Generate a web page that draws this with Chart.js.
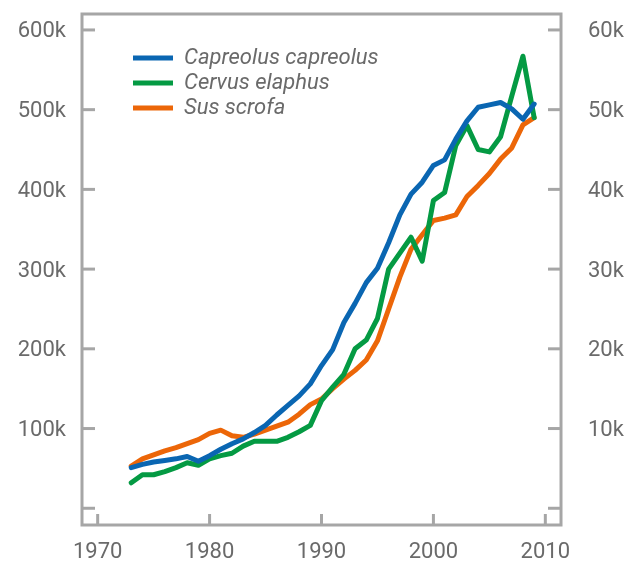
<!DOCTYPE html>
<html><head><meta charset="utf-8">
<script src="https://cdn.jsdelivr.net/npm/chart.js@4.4.1/dist/chart.umd.min.js"></script>
<style>html,body{margin:0;padding:0;background:#fff;overflow:hidden}canvas{display:block}</style>
</head><body>
<canvas id="c" width="628" height="561"></canvas>
<script>
const years = [1973,1974,1975,1976,1977,1978,1979,1980,1981,1982,1983,1984,1985,1986,1987,1988,1989,1990,1991,1992,1993,1994,1995,1996,1997,1998,1999,2000,2001,2002,2003,2004,2005,2006,2007,2008,2009];
const capreolusCapreolus = [51000,55000,58000,60000,62000,65000,59000,66000,74000,81000,87000,95000,104000,117000,129000,141000,156000,179000,199000,233000,257000,283000,301000,333000,368000,394000,409000,430000,437000,463000,486000,503000,506000,509000,501000,488000,507000];
const cervusElaphus = [3200,4200,4200,4600,5100,5700,5400,6200,6600,6900,7800,8400,8400,8400,8900,9600,10400,13500,15200,16800,20000,21100,23800,30000,32000,34000,31000,38600,39600,45500,48000,45000,44700,46600,51700,56700,49000];
const susScrofa = [53000,62000,67000,72000,76000,81000,86000,94000,98000,91000,89000,93000,98000,103000,108000,118000,130000,137000,150000,162000,173000,186000,210000,250000,290000,325000,343000,361000,364000,368000,391000,405000,420000,438000,452000,481000,490000];
const seriesNames = ['Capreolus capreolus','Cervus elaphus','Sus scrofa'];
const xTickYears = [1970,1980,1990,2000,2010];
const leftTicks = [0,100000,200000,300000,400000,500000,600000];
const rightTicks = [0,10000,20000,30000,40000,50000,60000];

const GRAY = '#a6a6a6';
const TEXT = '#6a6a6a';
const FONT = 'Roboto';

function pts(vals){ return years.map((y,i)=>({x:y, y:vals[i]})); }
function kLabel(v){ return v === 0 ? '' : (v/1000) + 'k'; }
function noPad(s){ s.paddingTop = 0; s.paddingBottom = 0; s.paddingLeft = 0; s.paddingRight = 0; }

const frameTicks = {
  id:'frameTicks',
  beforeDatasetsDraw(chart){
    const {ctx, chartArea:a, scales} = chart;
    ctx.save();
    ctx.strokeStyle = GRAY; ctx.lineWidth = 3; ctx.lineCap = 'butt';
    const seg = (x1,y1,x2,y2)=>{ctx.beginPath();ctx.moveTo(x1,y1);ctx.lineTo(x2,y2);ctx.stroke();};
    scales.y.ticks.forEach(t=>{const y = scales.y.getPixelForValue(t.value); seg(a.left, y, a.left+13, y);});
    scales.y1.ticks.forEach(t=>{const y = scales.y1.getPixelForValue(t.value); seg(a.right-13, y, a.right, y);});
    scales.x.ticks.forEach(t=>{const x = scales.x.getPixelForValue(t.value); seg(x, a.bottom-11, x, a.bottom);});
    ctx.strokeRect(a.left, a.top, a.right-a.left, a.bottom-a.top);
    ctx.restore();
  }
};
const legendShift = {
  id:'legendShift',
  afterLayout(chart){
    if (chart.legend){ chart.legend.left = chart.chartArea.left + 48; chart.legend.top = chart.chartArea.top + 30; }
  }
};

const colors = ['#0a66b2','#049a43','#ec6608'];
const common = {borderWidth:5, pointRadius:0, pointHoverRadius:0, tension:0, fill:false, borderCapStyle:'round', borderJoinStyle:'round'};

new Chart(document.getElementById('c'), {
  type:'line',
  data:{
    datasets:[
      Object.assign({label:seriesNames[0], data:pts(capreolusCapreolus), borderColor:colors[0], backgroundColor:colors[0], yAxisID:'y'}, common),
      Object.assign({label:seriesNames[1], data:pts(cervusElaphus), borderColor:colors[1], backgroundColor:colors[1], yAxisID:'y1'}, common),
      Object.assign({label:seriesNames[2], data:pts(susScrofa), borderColor:colors[2], backgroundColor:colors[2], yAxisID:'y'}, common)
    ]
  },
  options:{
    responsive:false, animation:false, devicePixelRatio:1,
    layout:{padding:{top:14,left:0,right:0,bottom:0}},
    plugins:{
      tooltip:{enabled:false},
      legend:{
        position:'chartArea', align:'start', fullSize:false,
        labels:{usePointStyle:true, pointStyle:'line', pointStyleWidth:40, padding:3, color:TEXT,
          font:{family:FONT, size:22, style:'italic'}}
      }
    },
    scales:{
      x:{type:'linear', min:1968.6, max:2011.4,
        grid:{display:false, drawTicks:false}, border:{display:false},
        afterBuildTicks(s){ s.ticks = xTickYears.map(v=>({value:v})); },
        afterFit(s){ s.height = 36; noPad(s); },
        ticks:{padding:14, color:TEXT, font:{family:FONT,size:22}, maxRotation:0, autoSkip:false, callback:v=>String(v)}
      },
      y:{type:'linear', position:'left', min:-21000, max:620000,
        grid:{display:false, drawTicks:false}, border:{display:false},
        afterBuildTicks(s){ s.ticks = leftTicks.map(v=>({value:v})); },
        afterFit(s){ s.width = 82; noPad(s); },
        ticks:{padding:16, labelOffset:2, color:TEXT, font:{family:FONT,size:22}, callback:kLabel}
      },
      y1:{type:'linear', position:'right', min:-2100, max:62000,
        grid:{display:false, drawTicks:false}, border:{display:false},
        afterBuildTicks(s){ s.ticks = rightTicks.map(v=>({value:v})); },
        afterFit(s){ s.width = 67; noPad(s); },
        ticks:{padding:27, labelOffset:2, color:TEXT, font:{family:FONT,size:22}, callback:kLabel}
      }
    }
  },
  plugins:[frameTicks, legendShift]
});
</script>
</body></html>
